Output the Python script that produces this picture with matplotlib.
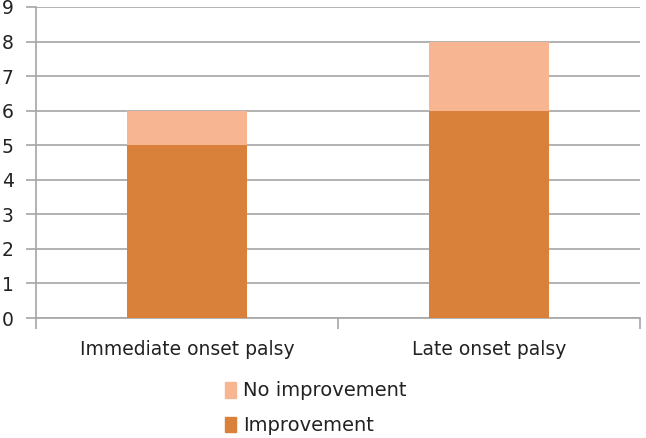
import numpy as np
import matplotlib
matplotlib.use("Agg")
import matplotlib.pyplot as plt
from matplotlib.patches import Patch

categories = ["Immediate onset palsy", "Late onset palsy"]
improvement = [5, 6]
no_improvement = [1, 2]

dark = "#D9813B"
light = "#F7B592"
grid_c = "#A6A6A6"

fig = plt.figure(figsize=(6.46, 4.38), dpi=100)
ax = fig.add_axes([36 / 646, 1 - 318 / 438, 604 / 646, 311 / 438])

x = np.arange(len(categories))
ax.bar(x, improvement, width=0.4, color=dark, zorder=3)
ax.bar(x, no_improvement, width=0.4, bottom=improvement, color=light, zorder=3)

ax.set_xlim(-0.5, 1.5)
ax.set_ylim(0, 9)
ax.set_yticks(range(10))
ax.yaxis.grid(True, color=grid_c, linewidth=1.2, zorder=0)

for s in ["top", "right"]:
    ax.spines[s].set_visible(False)
for s in ["left", "bottom"]:
    ax.spines[s].set_color(grid_c)
    ax.spines[s].set_linewidth(1.2)

ax.set_xticks(x)
ax.set_xticklabels(categories, fontsize=13.5, color="#222222")
ax.tick_params(axis="x", which="major", length=0, pad=16)
ax.set_xticks([-0.5, 0.5, 1.5], minor=True)
ax.tick_params(axis="x", which="minor", length=8, color=grid_c, width=1.2)
ax.tick_params(axis="y", length=7, color=grid_c, width=1.2, labelsize=13.5,
               labelcolor="#222222", pad=9)

handles = [Patch(color=light, label="No improvement"),
           Patch(color=dark, label="Improvement")]
fig.legend(handles=handles, loc="upper left", bbox_to_anchor=(207 / 646, 1 - 364 / 438),
           frameon=False, fontsize=14, handlelength=0.6, handleheight=0.85,
           labelspacing=0.8, handletextpad=0.35, labelcolor="#222222")

fig.savefig("out.png", dpi=100)
